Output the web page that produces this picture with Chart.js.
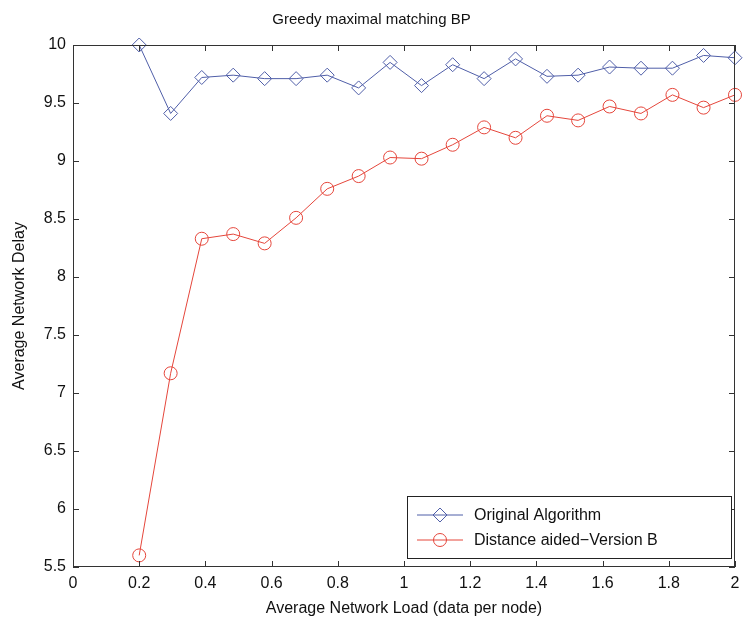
<!DOCTYPE html>
<html lang="en">
<head>
    <meta charset="UTF-8">
    <title>Greedy maximal matching BP</title>
    <script src="https://cdn.jsdelivr.net/npm/chart.js"></script>
    <style>
        html, body { margin: 0; padding: 0; background: #fff; }
        #wrap { width: 743px; height: 623px; }
    </style>
</head>
<body>
    <div id="wrap"><canvas id="delayChart"></canvas></div>

    <script>
        // values
        const loads = [0.2, 0.295, 0.389, 0.484, 0.579, 0.674, 0.768, 0.863, 0.958, 1.053,
                       1.147, 1.242, 1.337, 1.432, 1.526, 1.621, 1.716, 1.811, 1.905, 2.0];
        const originalDelay = [10.0, 9.41, 9.72, 9.74, 9.71, 9.71, 9.74, 9.63, 9.85, 9.65,
                               9.83, 9.71, 9.88, 9.73, 9.74, 9.81, 9.80, 9.80, 9.91, 9.89];
        const distanceDelay = [5.60, 7.17, 8.33, 8.37, 8.29, 8.51, 8.76, 8.87, 9.03, 9.02,
                               9.14, 9.29, 9.20, 9.39, 9.35, 9.47, 9.41, 9.57, 9.46, 9.57];
        const seriesNames = ['Original Algorithm', 'Distance aided\u2212Version B'];

        const blue = '#4f5ea8';
        const red = '#e5463b';
        const font = 'Liberation Sans, Arial, Helvetica, sans-serif';

        const toPoints = ys => loads.map((x, i) => ({ x: x, y: ys[i] }));
        const fmt = v => String(Number(v.toFixed(1)));

        // MATLAB style box with inward ticks on all four sides, plus the legend
        const boxPlugin = {
            id: 'matlabBox',
            afterDraw(chart) {
                const ctx = chart.ctx;
                const a = chart.chartArea;
                const xs = chart.scales.x, ys = chart.scales.y;
                ctx.save();
                ctx.strokeStyle = '#333';
                ctx.lineWidth = 1;
                ctx.strokeRect(a.left + 0.5, a.top + 0.5, a.right - a.left - 1, a.bottom - a.top - 1);
                ctx.beginPath();
                xs.ticks.forEach(t => {
                    const px = Math.round(xs.getPixelForValue(t.value)) + 0.5;
                    ctx.moveTo(px, a.bottom); ctx.lineTo(px, a.bottom - 6);
                    ctx.moveTo(px, a.top); ctx.lineTo(px, a.top + 6);
                });
                ys.ticks.forEach(t => {
                    const py = Math.round(ys.getPixelForValue(t.value)) + 0.5;
                    ctx.moveTo(a.left, py); ctx.lineTo(a.left + 6, py);
                    ctx.moveTo(a.right, py); ctx.lineTo(a.right - 6, py);
                });
                ctx.stroke();

                // legend box
                const lx = 407, ly = 496, lw = a.right - 4 - lx, lh = 62;
                ctx.fillStyle = '#fff';
                ctx.fillRect(lx, ly, lw, lh);
                ctx.strokeStyle = '#222';
                ctx.strokeRect(lx + 0.5, ly + 0.5, lw, lh);
                chart.data.datasets.forEach((ds, i) => {
                    const cy = ly + 19 + i * 25;
                    ctx.strokeStyle = ds.borderColor;
                    ctx.fillStyle = 'rgba(0,0,0,0)';
                    ctx.lineWidth = 1;
                    ctx.beginPath();
                    ctx.moveTo(417, cy); ctx.lineTo(463, cy);
                    ctx.stroke();
                    Chart.helpers.drawPoint(ctx, {
                        pointStyle: ds.pointStyle, radius: ds.pointRadius, borderWidth: 1
                    }, 440, cy);
                    ctx.fillStyle = '#111';
                    ctx.font = '16px ' + font;
                    ctx.textBaseline = 'middle';
                    ctx.fillText(ds.label, 474, cy + 1);
                });
                ctx.restore();
            }
        };

        function renderChart() {
            const ctx = document.getElementById('delayChart').getContext('2d');
            new Chart(ctx, {
                type: 'line',
                data: {
                    datasets: [{
                        label: seriesNames[0],
                        data: toPoints(originalDelay),
                        borderColor: blue,
                        backgroundColor: 'transparent',
                        borderWidth: 1,
                        pointStyle: 'rectRot',
                        pointRadius: 7,
                        pointBorderWidth: 1,
                        pointBackgroundColor: 'transparent',
                        clip: false
                    }, {
                        label: seriesNames[1],
                        data: toPoints(distanceDelay),
                        borderColor: red,
                        backgroundColor: 'transparent',
                        borderWidth: 1,
                        pointStyle: 'circle',
                        pointRadius: 6.5,
                        pointBorderWidth: 1,
                        pointBackgroundColor: 'transparent',
                        clip: false
                    }]
                },
                options: {
                    responsive: true,
                    maintainAspectRatio: false,
                    animation: false,
                    events: [],
                    layout: { padding: { right: 0 } },
                    plugins: {
                        legend: { display: false },
                        tooltip: { enabled: false },
                        title: {
                            display: true,
                            text: 'Greedy maximal matching BP',
                            color: '#111',
                            font: { family: font, size: 15, weight: 'normal' },
                            padding: { top: 11, bottom: 16 }
                        }
                    },
                    scales: {
                        x: {
                            type: 'linear',
                            min: 0, max: 2,
                            ticks: {
                                stepSize: 0.2,
                                color: '#111',
                                padding: 7,
                                maxRotation: 0,
                                font: { family: font, size: 16 },
                                callback: fmt
                            },
                            grid: { drawOnChartArea: false, drawTicks: false },
                            border: { display: false },
                            title: {
                                display: true,
                                text: 'Average Network Load (data per node)',
                                color: '#111',
                                font: { family: font, size: 16 },
                                padding: { top: 2, bottom: 5 }
                            },
                            afterFit: s => { s.height = 56; s.paddingRight = 4; }
                        },
                        y: {
                            min: 5.5, max: 10,
                            ticks: {
                                stepSize: 0.5,
                                color: '#111',
                                padding: 7,
                                font: { family: font, size: 16 },
                                callback: fmt
                            },
                            grid: { drawOnChartArea: false, drawTicks: false },
                            border: { display: false },
                            title: {
                                display: true,
                                text: 'Average Network Delay',
                                color: '#111',
                                font: { family: font, size: 16 },
                                padding: { top: 10, bottom: 2 }
                            },
                            afterFit: s => { s.width = 73; }
                        }
                    }
                },
                plugins: [boxPlugin]
            });
        }

        renderChart();
    </script>
</body>
</html>
